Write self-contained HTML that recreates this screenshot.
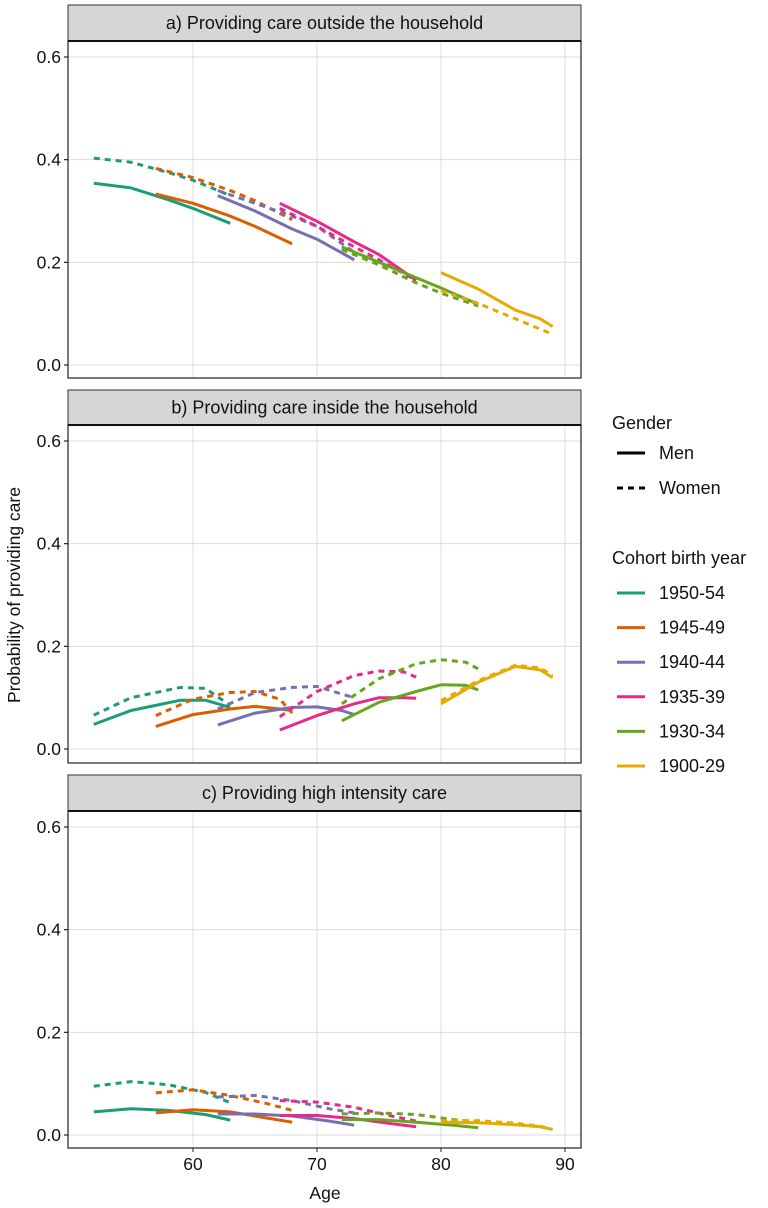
<!DOCTYPE html>
<html><head><meta charset="utf-8"><style>
body{margin:0;background:#fff;}
svg{display:block;font-family:"Liberation Sans",Arial,sans-serif;}
</style></head><body>
<svg id="chart" width="768" height="1208" viewBox="0 0 768 1208"></svg>
<script>
const cohorts = ["1950-54","1945-49","1940-44","1935-39","1930-34","1900-29"];
const colors = ["#1b9e77","#d95f02","#7570b3","#e7298a","#66a61e","#e6ab02"];
const panelTitles = ["a) Providing care outside the household","b) Providing care inside the household","c) Providing high intensity care"];
const xTicks = [60,70,80,90];
const yTicks = [0,0.2,0.4,0.6];
const yTickLabels = ["0.0","0.2","0.4","0.6"];
const ages = [
  [52,55,58,60,63],[57,60,63,65,68],[62,65,68,70,73],[67,70,73,75,78],[72,75,78,80,83],[80,83,86,88,89]
];
const agesB = [
  [52,55,59,61,63],[57,60,63,65,67,68],[62,65,68,70,72,73],[67,70,73,75,77,78],[72,75,78,80,82,83],[80,83,86,88,89]
];
const outsideMen = [[.354,.345,.322,.305,.276],[.333,.315,.29,.27,.236],[.33,.3,.265,.245,.205],[.315,.28,.24,.215,.165],[.23,.2,.17,.15,.118],[.18,.148,.107,.09,.075]];
const outsideWomen = [[.403,.395,.375,.36,.33],[.383,.365,.34,.32,.283],[.34,.315,.29,.27,.22],[.305,.27,.23,.205,.165],[.225,.195,.16,.14,.115],[.145,.12,.09,.07,.06]];
const insideMen = [[.048,.075,.095,.095,.081],[.044,.067,.078,.083,.078,.075],[.047,.07,.081,.082,.075,.067],[.037,.065,.088,.1,.1,.099],[.055,.091,.112,.125,.124,.115],[.088,.13,.161,.154,.139]];
const insideWomen = [[.066,.1,.12,.118,.085],[.065,.097,.11,.112,.097,.07],[.078,.11,.12,.122,.107,.1],[.063,.112,.143,.152,.15,.14],[.088,.137,.166,.174,.169,.156],[.094,.133,.163,.158,.143]];
const highMen = [[.045,.051,.048,.04,.029],[.043,.049,.045,.033,.025],[.041,.041,.037,.027,.019],[.038,.038,.032,.022,.016],[.03,.03,.025,.019,.014],[.025,.024,.02,.016,.011]];
const highWomen = [[.095,.104,.098,.083,.063],[.082,.088,.077,.061,.048],[.074,.077,.067,.051,.043],[.067,.064,.054,.037,.027],[.041,.043,.04,.03,.025],[.028,.028,.023,.017,.011]];
const agesC = [[52,55,58,61,63],[57,60,63,66,68],[62,65,68,71,73],[67,70,73,76,78],[72,75,78,81,83],[80,83,86,88,89]];

const svg = document.getElementById('chart');
const NS = "http://www.w3.org/2000/svg";
function mk(tag, attrs, parent){const e=document.createElementNS(NS,tag);for(const k in attrs)e.setAttribute(k,attrs[k]);(parent||svg).appendChild(e);return e;}
const PL=68, PR=581;
function xS(a){return 193 + (a-60)*12.4;}
const panels = [
  {top:5, plotTop:41, plotBot:378, men:outsideMen, women:outsideWomen, ages:ages},
  {top:390, plotTop:425, plotBot:763, men:insideMen, women:insideWomen, ages:agesB},
  {top:775, plotTop:811, plotBot:1148, men:highMen, women:highWomen, ages:agesC}
];
panels.forEach((p,pi)=>{
  const y0 = p.plotTop+324, y6 = p.plotTop+16;
  const yS = v => y0 - v/0.6*(y0-y6);
  const g = mk('g',{});
  
  
  const strip = mk('rect',{x:PL,y:p.top,width:PR-PL,height:p.plotTop-p.top,fill:'#d6d6d6',stroke:'#333','stroke-width':1},g);
  
  
  const st = mk('text',{x:(PL+PR)/2,y:p.top+(p.plotTop-p.top)/2+6,'text-anchor':'middle','font-size':18,fill:'#111'},g);
  st.textContent = panelTitles[pi];
  
  
  mk('rect',{x:PL,y:p.plotTop,width:PR-PL,height:p.plotBot-p.plotTop,fill:'#fff'},g);
  xTicks.forEach(t=>mk('line',{x1:xS(t),x2:xS(t),y1:p.plotTop,y2:p.plotBot,stroke:'#dcdcdc','stroke-width':1},g));
  yTicks.forEach((t,i)=>{
    mk('line',{x1:PL,x2:PR,y1:yS(t),y2:yS(t),stroke:'#dcdcdc','stroke-width':1},g);
    mk('line',{x1:PL-4,x2:PL,y1:yS(t),y2:yS(t),stroke:'#222','stroke-width':1.2},g);
    const tl = mk('text',{x:PL-7,y:yS(t)+6,'text-anchor':'end','font-size':17.5,fill:'#111'},g);
    tl.textContent = yTickLabels[i];
    
    
  });
  cohorts.forEach((c,ci)=>{
    [[p.women,'6,5'],[p.men,'']].forEach(([ser,dash],si)=>{
      const pts = p.ages[ci].map((a,k)=>xS(a).toFixed(1)+','+yS(ser[ci][k]).toFixed(1)).join(' ');
      const line = mk('polyline',{points:pts,fill:'none',stroke:colors[ci],'stroke-width':3,'stroke-linejoin':'round'},g);
      if(dash) line.setAttribute('stroke-dasharray',dash);
      
      
    });
  });
  mk('rect',{x:PL,y:p.plotTop,width:PR-PL,height:p.plotBot-p.plotTop,fill:'none',stroke:'#222','stroke-width':1.2},g);
  mk('line',{x1:PL,x2:PR,y1:p.plotTop,y2:p.plotTop,stroke:'#111','stroke-width':2},g);
  if(pi===2){
    xTicks.forEach(t=>{
      mk('line',{x1:xS(t),x2:xS(t),y1:p.plotBot,y2:p.plotBot+4,stroke:'#222'},g);
      const xl = mk('text',{x:xS(t),y:p.plotBot+22,'text-anchor':'middle','font-size':17.5,fill:'#111'},g);
      xl.textContent = t;
      
      
    });
  }
});
const xt = mk('text',{x:325,y:1199,'text-anchor':'middle','font-size':17.5,fill:'#111'});
xt.textContent='Age';


const yt = mk('text',{x:0,y:0,'text-anchor':'middle','font-size':17.5,fill:'#111',transform:'translate(20,595) rotate(-90)'});
yt.textContent='Probability of providing care';


const lg = mk('g',{});


const gt = mk('text',{x:612,y:429,'font-size':18,fill:'#111'},lg); gt.textContent='Gender';


[['Men',453,''],['Women',488,'6,5']].forEach(([lab,y,d])=>{
  const l = mk('line',{x1:617,x2:645,y1:y,y2:y,stroke:'#000','stroke-width':3},lg);
  if(d) l.setAttribute('stroke-dasharray',d);
  
  
  const t = mk('text',{x:659,y:y+6,'font-size':18,fill:'#111'},lg); t.textContent=lab;
  
  
});
const ct = mk('text',{x:612,y:564,'font-size':18,fill:'#111'},lg); ct.textContent='Cohort birth year';


cohorts.forEach((c,i)=>{
  const y = 593 + i*34.6;
  const l = mk('line',{x1:617,x2:645,y1:y,y2:y,stroke:colors[i],'stroke-width':3},lg);
  
  
  const t = mk('text',{x:659,y:y+6,'font-size':18,fill:'#111'},lg); t.textContent=c;
  
  
});
</script>
</body></html>
